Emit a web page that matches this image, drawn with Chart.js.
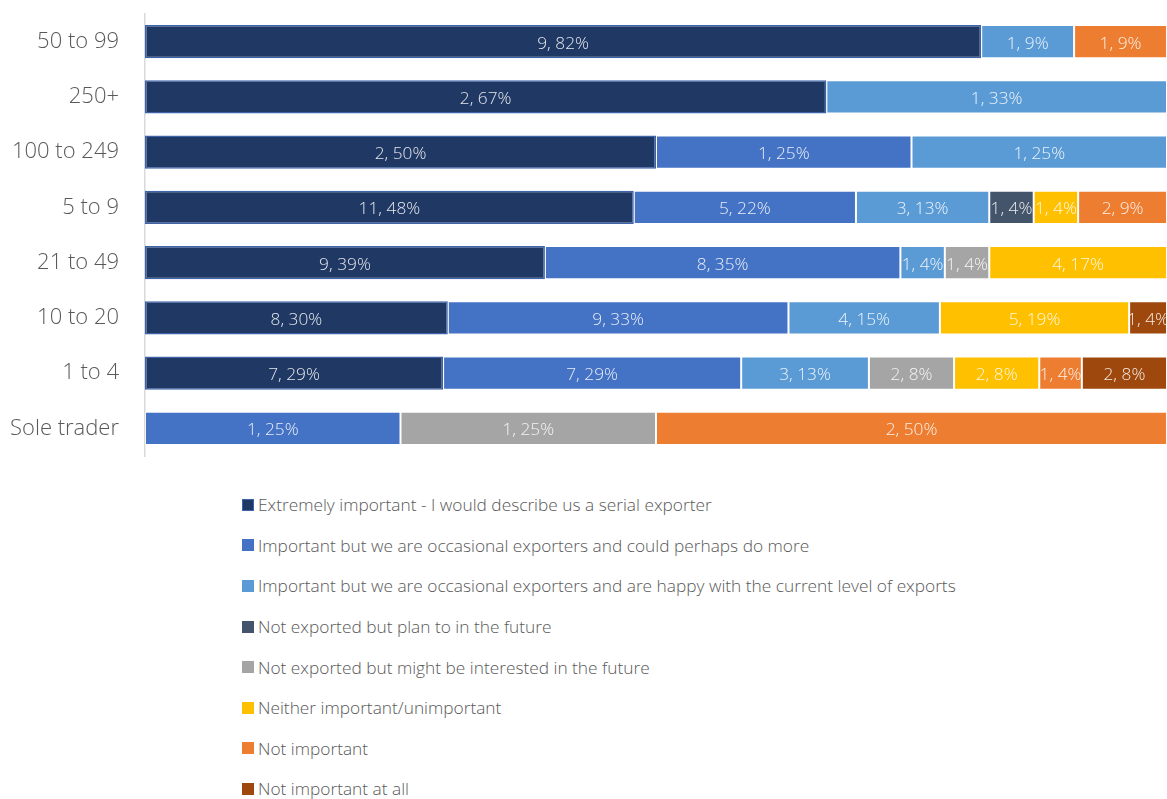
<!DOCTYPE html>
<html>
<head>
<meta charset="utf-8">
<script src="https://cdn.jsdelivr.net/npm/chart.js@4/dist/chart.umd.min.js"></script>
<style>
  html, body { margin: 0; padding: 0; background: #ffffff; }
  body { width: 1167px; height: 799px; position: relative; overflow: hidden; font-family: "Open Sans", "Noto Sans", sans-serif; }
  #wrap { position: absolute; left: 0; top: 0; width: 1167px; height: 470px; }
  #legend { position: absolute; left: 242px; top: 484.5px; margin: 0; padding: 0; list-style: none; }
  #legend li { display: flex; align-items: center; height: 40.6px; font-size: 17.3px; font-weight: 300; color: #595959; white-space: nowrap; }
  #legend .sw { width: 12px; height: 12px; margin-right: 4px; box-sizing: border-box; }
</style>
</head>
<body>
<div id="wrap"><canvas id="c"></canvas></div>
<ul id="legend"></ul>
<script>
// Firm size bands, top to bottom
const categories = ['50 to 99', '250+', '100 to 249', '5 to 9', '21 to 49', '10 to 20', '1 to 4', 'Sole trader'];

// Number of respondents per answer, one entry per size band
const extremelyImportant = [9, 2, 2, 11, 9, 8, 7, 0];
const couldDoMore        = [0, 0, 1, 5, 8, 9, 7, 1];
const happyWithLevel     = [1, 1, 1, 3, 1, 4, 3, 0];
const planToExport       = [0, 0, 0, 1, 0, 0, 0, 0];
const mightBeInterested  = [0, 0, 0, 0, 1, 0, 2, 1];
const neitherImportant   = [0, 0, 0, 1, 4, 5, 2, 0];
const notImportant       = [1, 0, 0, 2, 0, 0, 1, 2];
const notImportantAtAll  = [0, 0, 0, 0, 0, 1, 2, 0];

const seriesLabels = [
  'Extremely important - I would describe us a serial exporter',
  'Important but we are occasional exporters and could perhaps do more',
  'Important but we are occasional exporters and are happy with the current level of exports',
  'Not exported but plan to in the future',
  'Not exported but might be interested in the future',
  'Neither important/unimportant',
  'Not important',
  'Not important at all'
];
const seriesCounts = [extremelyImportant, couldDoMore, happyWithLevel, planToExport,
  mightBeInterested, neitherImportant, notImportant, notImportantAtAll];
const seriesColors = ['#203864', '#4472C4', '#5B9BD5', '#44546A', '#A5A5A5', '#FFC000', '#ED7D31', '#9E480E'];

// Row totals for the 100% stack
const totals = categories.map((_, i) => seriesCounts.reduce((s, arr) => s + arr[i], 0));

const datasets = seriesCounts.map((counts, k) => ({
  label: seriesLabels[k],
  counts: counts,
  data: counts.map((v, i) => v > 0 ? v / totals[i] * 100 : null),
  backgroundColor: seriesColors[k],
  borderColor: k === 0 ? '#3E63A8' : 'rgba(255,255,255,0.35)',
  borderWidth: k === 0 ? 1.5 : 1,
  borderSkipped: false,
  barPercentage: 0.6,
  categoryPercentage: 1.0
}));

// Writes "count, percent%" in the middle of each segment
const segmentLabels = {
  id: 'segmentLabels',
  afterDatasetsDraw(chart) {
    const ctx = chart.ctx;
    ctx.save();
    ctx.font = '300 17.3px "Open Sans", "Noto Sans", sans-serif';
    ctx.fillStyle = 'rgba(255,255,255,0.88)';
    ctx.textAlign = 'center';
    ctx.textBaseline = 'middle';
    chart.data.datasets.forEach((ds, di) => {
      const meta = chart.getDatasetMeta(di);
      meta.data.forEach((bar, i) => {
        const v = ds.data[i];
        if (v == null) return;
        const cx = (bar.x + bar.base) / 2;
        ctx.fillText(ds.counts[i] + ', ' + Math.round(v) + '%', cx, bar.y + 2);
      });
    });
    ctx.restore();
  }
};

const chart = new Chart(document.getElementById('c'), {
  type: 'bar',
  data: { labels: categories, datasets: datasets },
  options: {
    indexAxis: 'y',
    responsive: true,
    maintainAspectRatio: false,
    animation: false,
    layout: { padding: { top: 14, bottom: 14, left: 0, right: 0 } },
    plugins: { legend: { display: false }, tooltip: { enabled: false } },
    scales: {
      x: { stacked: true, min: 0, max: 100, display: false },
      y: {
        stacked: true,
        grid: { display: false, drawTicks: false, tickLength: 0 },
        border: { display: true, color: '#D9D9D9', width: 1.5 },
        ticks: {
          color: '#595959',
          padding: 26,
          font: { family: '"Open Sans", "Noto Sans", sans-serif', size: 22, weight: '300' }
        },
        afterFit(scale) {
          scale.width = 145;
          scale.paddingTop = 0;
          scale.paddingBottom = 0;
        }
      }
    }
  },
  plugins: [segmentLabels]
});

// Vertical legend below the plot, built from the datasets
const legend = document.getElementById('legend');
chart.data.datasets.forEach(ds => {
  const li = document.createElement('li');
  const sw = document.createElement('span');
  sw.className = 'sw';
  sw.style.background = ds.backgroundColor;
  if (ds.backgroundColor === '#203864') sw.style.border = '1px solid #3E63A8';
  li.appendChild(sw);
  li.appendChild(document.createTextNode(ds.label));
  legend.appendChild(li);
});
</script>
</body>
</html>
